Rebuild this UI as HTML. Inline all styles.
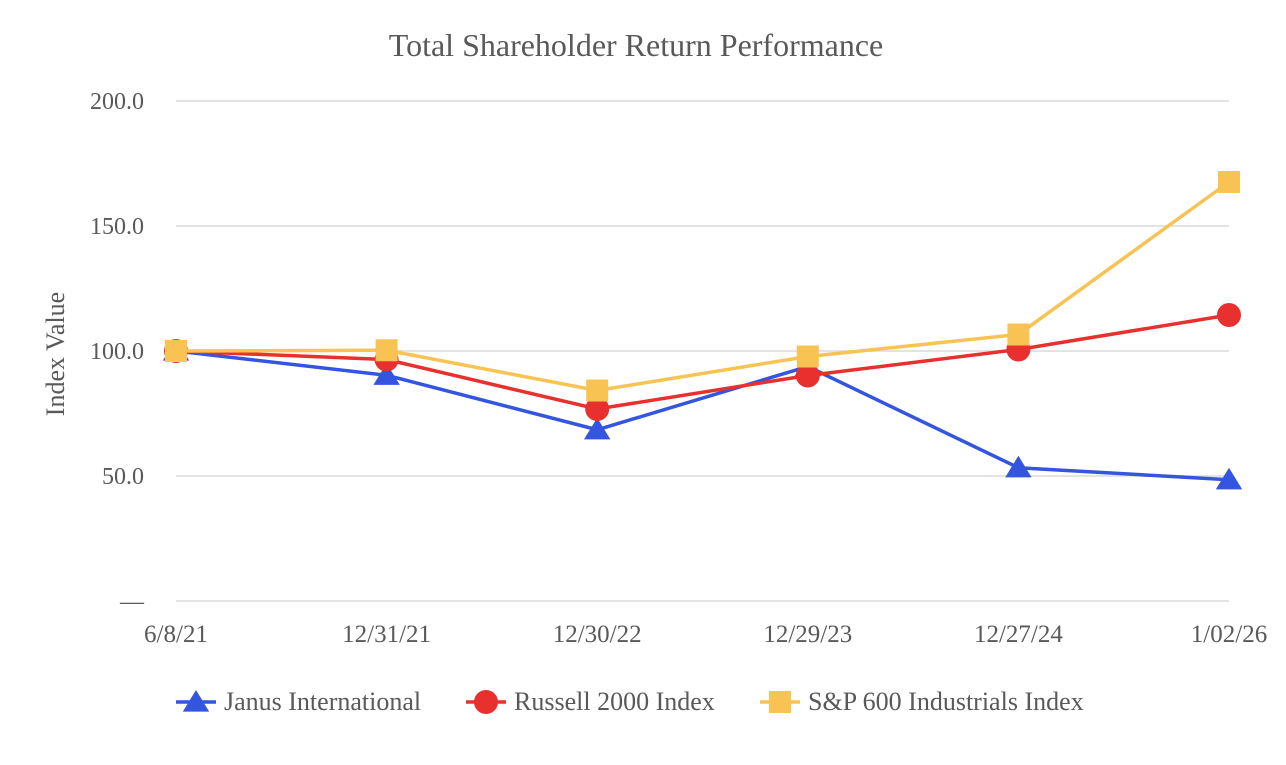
<!DOCTYPE html>
<html><head><meta charset="utf-8"><style>
body{margin:0;background:#fff;}
svg text{font-family:"Liberation Serif",serif;fill:#595959;}
</style></head><body>
<svg id="chart" width="1286" height="760">
<text x="636" y="56" text-anchor="middle" font-size="32">Total Shareholder Return Performance</text>
<text transform="translate(64,354) rotate(-90)" text-anchor="middle" font-size="26">Index Value</text>
<g id="grid"></g><g id="series"></g><g id="legend"></g>
</svg>
<script>
const categories=["6/8/21","12/31/21","12/30/22","12/29/23","12/27/24","1/02/26"];
const yTicks=[0,50,100,150,200];
const yTickLabels=["—","50.0","100.0","150.0","200.0"];
const janus=[100,90.3,68.5,93.8,53.3,48.5];
const russell=[100,96.6,76.8,90.2,100.6,114.4];
const sp600=[100,100.3,84.2,97.8,106.6,167.6];
const seriesNames=["Janus International","Russell 2000 Index","S&P 600 Industrials Index"];
const NS="http://www.w3.org/2000/svg";
function x(i){return 176+i*(1229-176)/(categories.length-1);}
function y(v){return 601-v*2.5;}
function mk(tag,attrs,parent){const e=document.createElementNS(NS,tag);for(const k in attrs)e.setAttribute(k,attrs[k]);parent.appendChild(e);return e;}
const grid=document.getElementById('grid');
yTicks.forEach((t,i)=>{
  const l=mk('line',{x1:176,x2:1229,y1:y(t),y2:y(t),stroke:'#e3e3e3','stroke-width':2},grid);
  
  
  const tx=mk('text',{x:144,y:y(t)+8,'text-anchor':'end','font-size':24},grid);
  tx.textContent=yTickLabels[i];
  
  
});
categories.forEach((c,i)=>{
  const tx=mk('text',{x:x(i),y:642,'text-anchor':'middle','font-size':25},grid);
  tx.textContent=c;
  
  
});
const sg=document.getElementById('series');
function marker(type,cx,cy,color,parent,s){
  let e;
  if(type==='tri')e=mk('polygon',{points:`${cx},${cy-s} ${cx-s*1.1},${cy+s*0.8} ${cx+s*1.1},${cy+s*0.8}`,fill:color},parent);
  else if(type==='circ')e=mk('circle',{cx:cx,cy:cy,r:s,fill:color},parent);
  else e=mk('rect',{x:cx-s,y:cy-s,width:2*s,height:2*s,fill:color},parent);
  return e;
}
const defs=[[janus,'#3355e0','tri'],[russell,'#e8302e','circ'],[sp600,'#f8c352','sq']];
defs.forEach(([d,col,m],si)=>{
  const pts=d.map((v,i)=>x(i)+','+y(v)).join(' ');
  const pl=mk('polyline',{points:pts,fill:'none',stroke:col,'stroke-width':3.5},sg);
  
  
  d.forEach((v,i)=>{
    const e=marker(m,x(i),y(v),col,sg,m==='sq'?11:12);
    
    
  });
});
const lg=document.getElementById('legend');
const lx=[176,466,760];
defs.forEach(([d,col,m],si)=>{
  const g=mk('g',{},lg);
  
  
  mk('line',{x1:lx[si],x2:lx[si]+40,y1:702,y2:702,stroke:col,'stroke-width':3.5},g);
  marker(m,lx[si]+20,702,col,g,m==='sq'?11:12);
  const t=mk('text',{x:lx[si]+48,y:710,'font-size':26},g);
  t.textContent=seriesNames[si];
});
</script>
</body></html>
